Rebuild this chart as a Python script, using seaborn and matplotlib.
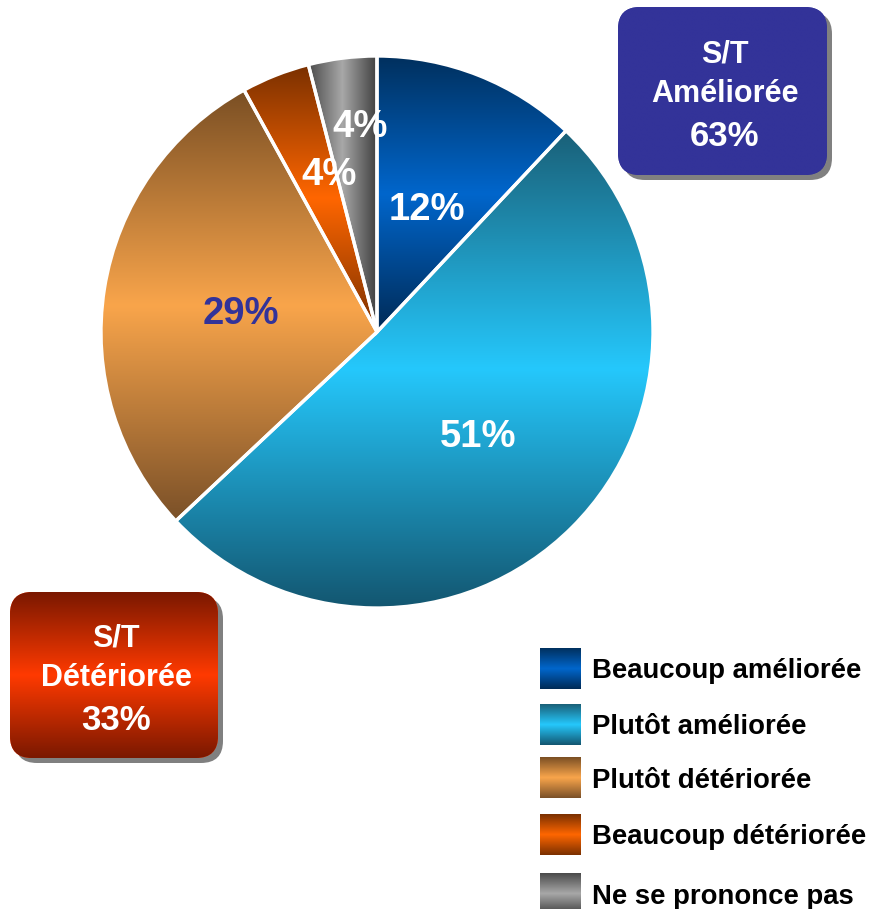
import numpy as np
import matplotlib
matplotlib.use("Agg")
import matplotlib.pyplot as plt
import seaborn as sns
from matplotlib import font_manager as fm
from matplotlib.colors import LinearSegmentedColormap
from matplotlib.patches import FancyBboxPatch

# ---------------- data ----------------
categories = ["Beaucoup améliorée", "Plutôt améliorée", "Plutôt détériorée",
              "Beaucoup détériorée", "Ne se prononce pas"]
values = [12, 51, 29, 4, 4]
summary_titles = ["S/T\nAméliorée", "S/T\nDétériorée"]
summary_values = [63, 33]

# ---------------- style ----------------
sns.set_theme(style="white")
plt.rcParams['font.family'] = ['Liberation Sans', 'DejaVu Sans']


def FP(size):
    return fm.FontProperties(family=['Liberation Sans', 'DejaVu Sans'],
                             weight='bold', size=size)


grad_stops = [
    ("#00305e", "#0066cc", "#002a55"),
    ("#1a6078", "#25c8fc", "#135670"),
    ("#7a4f24", "#f9a54b", "#7a5028"),
    ("#7a3000", "#ff6600", "#7a3000"),
    ("#4a4a4a", "#a8a8a8", "#404040"),
]
horizontal = [False, False, False, False, True]
label_colors = ["white", "white", "#333399", "white", "white"]
label_dist = [0.49, 0.52, 0.50, 0.61, 0.76]
label_shift = [0, 0, 0, -5, -2.5]

W, H = 885, 909
fig = plt.figure(figsize=(W / 100, H / 100), dpi=100)
ax = fig.add_axes([0, 0, 1, 1])
ax.set_xlim(0, W)
ax.set_ylim(0, H)
ax.axis('off')


def Y(y):
    return H - y


def grad_img(stops, horiz=False, n=256):
    cmap = LinearSegmentedColormap.from_list("g", list(stops))
    t = np.linspace(0, 1, n)
    if horiz:
        return cmap(t)[None, :, :]
    return cmap(t)[:, None, :]  # row 0 = top (origin upper)


cx, cy, R = 377, Y(332), 276
wedges, _ = ax.pie(values, colors=[s[1] for s in grad_stops], startangle=90,
                   counterclock=False, center=(cx, cy), radius=R,
                   wedgeprops=dict(edgecolor="white", linewidth=2.4))
ax.set_xlim(0, W)
ax.set_ylim(0, H)
ax.set_aspect('equal')

for i, w in enumerate(wedges):
    t1, t2 = w.theta1, w.theta2
    angs = np.radians(np.linspace(t1, t2, 200))
    xs = np.concatenate([[cx], cx + R * np.cos(angs)])
    ys = np.concatenate([[cy], cy + R * np.sin(angs)])
    ext = (xs.min(), xs.max(), ys.min(), ys.max())
    im = ax.imshow(grad_img(grad_stops[i], horizontal[i]), extent=ext,
                   origin="upper", aspect="auto", zorder=2,
                   interpolation="bilinear")
    im.set_clip_path(w)
    w.set_facecolor("none")
    w.set_zorder(3)
    mid = np.radians((t1 + t2) / 2 + label_shift[i])
    r = label_dist[i] * R
    ax.text(cx + r * np.cos(mid), cy + r * np.sin(mid), f"{values[i]}%",
            ha="center", va="center_baseline", fontproperties=FP(27.5),
            color=label_colors[i], zorder=5)

# ---------------- legend ----------------
leg_tops = [648, 704, 757, 814, 873]
for i, (cat, top) in enumerate(zip(categories, leg_tops)):
    x0, x1, y_top, y_bot = 540, 581, top, top + 41
    ax.imshow(grad_img(grad_stops[i]), extent=(x0, x1, Y(y_bot), Y(y_top)),
              origin="upper", aspect="auto", zorder=2, interpolation="bilinear")
    ax.text(592, Y((y_top + y_bot) / 2), cat, ha="left", va="center_baseline",
            fontproperties=FP(19.8), color="black", zorder=5)

# ---------------- summary boxes ----------------
boxes = [
    dict(x0=618, y0=7, x1=827, y1=175, stops=("#333399", "#333399", "#333399")),
    dict(x0=10, y0=592, x1=218, y1=758, stops=("#7a1800", "#ff3a00", "#7a1800")),
]
for b, title, val in zip(boxes, summary_titles, summary_values):
    w_ = b["x1"] - b["x0"]
    h_ = b["y1"] - b["y0"]
    shadow = FancyBboxPatch((b["x0"] + 5, Y(b["y1"] + 5)), w_, h_,
                            boxstyle="round,pad=0,rounding_size=22",
                            facecolor="#808080", edgecolor="none", zorder=1)
    ax.add_patch(shadow)
    patch = FancyBboxPatch((b["x0"], Y(b["y1"])), w_, h_,
                           boxstyle="round,pad=0,rounding_size=22",
                           facecolor=b["stops"][1], edgecolor="none", zorder=2)
    ax.add_patch(patch)
    im = ax.imshow(grad_img(b["stops"]), extent=(b["x0"], b["x1"], Y(b["y1"]), Y(b["y0"])),
                   origin="upper", aspect="auto", zorder=3, interpolation="bilinear")
    im.set_clip_path(patch)
    lines = title.split("\n") + [f"{val}%"]
    sizes = [22, 22, 25]
    xc = (b["x0"] + b["x1"]) / 2
    yc = (b["y0"] + b["y1"]) / 2
    for k, line in enumerate(lines):
        ax.text(xc + 2, Y(yc + (k - 1) * 40 + (2 if k == 2 else 0)), line,
                ha="center", va="center_baseline",
                fontproperties=FP(sizes[k]), color="white", zorder=5)

fig.savefig("out.png", dpi=100)
